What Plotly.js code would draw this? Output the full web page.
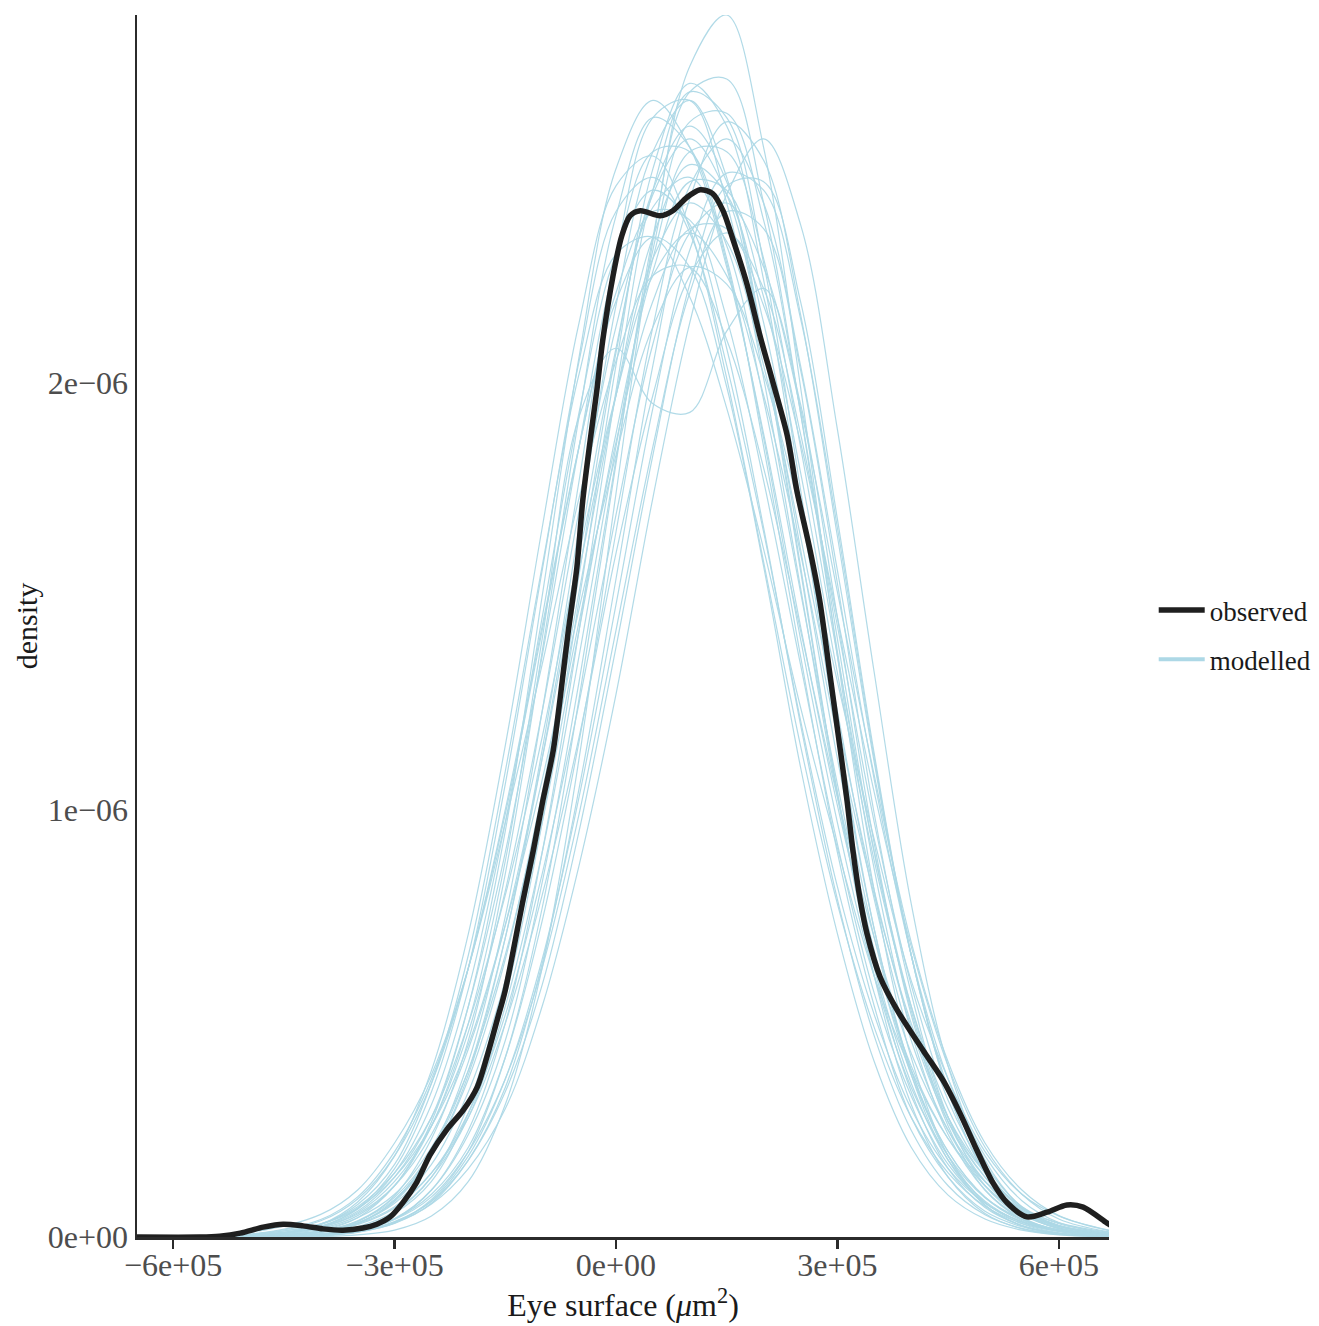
<!DOCTYPE html>
<html>
<head>
<meta charset="utf-8">
<script src="https://cdn.plot.ly/plotly-3.0.1.min.js"></script>
<style>html,body{margin:0;padding:0;background:#fff;}</style>
</head>
<body>
<div id="chart" style="width:1319px;height:1326px;"></div>
<script>
// ---- data (x in µm², y in units of 1e-6) ----
const Y_UNIT = 1e-6;

const observedX = [-649000, -564000, -537000, -509000, -478000, -451000, -424000, -397000, -370000, -343000, -324000, -306000, -289000, -270000, -252000, -229000, -207000, -188000, -175000, -161000, -150000, -126000, -112000, -99000, -85000, -76000, -65000, -53000, -45000, -35000, -26000, -18000, -4000, 8000, 19000, 33000, 60000, 77000, 96000, 114000, 131000, 145000, 159000, 178000, 195000, 213000, 232000, 245000, 263000, 276000, 290000, 304000, 313000, 321000, 331000, 340000, 358000, 381000, 416000, 443000, 466000, 489000, 511000, 530000, 557000, 584000, 611000, 633000, 665000, 676000];
const observedY = [0, 0, 0.002, 0.009, 0.023, 0.030, 0.026, 0.019, 0.016, 0.021, 0.030, 0.047, 0.080, 0.128, 0.192, 0.252, 0.297, 0.351, 0.421, 0.508, 0.578, 0.788, 0.905, 1.022, 1.139, 1.256, 1.413, 1.567, 1.724, 1.864, 1.981, 2.098, 2.250, 2.344, 2.390, 2.402, 2.390, 2.402, 2.433, 2.451, 2.442, 2.402, 2.332, 2.227, 2.110, 1.998, 1.876, 1.747, 1.607, 1.490, 1.315, 1.139, 1.022, 0.905, 0.788, 0.711, 0.608, 0.531, 0.437, 0.367, 0.290, 0.203, 0.126, 0.080, 0.047, 0.058, 0.075, 0.070, 0.033, 0.021];

const modelledX = [-650000, -500000, -400000, -350000, -300000, -250000, -200000, -150000, -100000, -50000, 0, 50000, 100000, 150000, 200000, 250000, 300000, 350000, 400000, 450000, 500000, 550000, 600000, 668000];

const modelled01 = [0, 0, 0.001, 0.005, 0.016, 0.049, 0.13, 0.31, 0.63, 1.12, 1.74, 2.33, 2.74, 2.86, 2.55, 1.99, 1.36, 0.81, 0.42, 0.19, 0.074, 0.026, 0.008, 0.001];
const modelled02 = [0, 0, 0.003, 0.011, 0.033, 0.088, 0.20, 0.42, 0.77, 1.26, 1.81, 2.34, 2.68, 2.71, 2.42, 1.93, 1.37, 0.86, 0.48, 0.24, 0.11, 0.041, 0.014, 0.003];
const modelled03 = [0, 0, 0.006, 0.020, 0.055, 0.13, 0.29, 0.56, 0.97, 1.49, 2.04, 2.50, 2.70, 2.60, 2.24, 1.72, 1.17, 0.72, 0.39, 0.19, 0.081, 0.031, 0.010, 0.002];
const modelled04 = [0, 0.001, 0.015, 0.045, 0.12, 0.27, 0.54, 0.95, 1.50, 2.06, 2.50, 2.66, 2.55, 2.27, 1.88, 1.43, 1.01, 0.66, 0.40, 0.23, 0.12, 0.055, 0.025, 0.007];
const modelled05 = [0, 0.001, 0.012, 0.036, 0.097, 0.23, 0.46, 0.85, 1.37, 1.92, 2.39, 2.62, 2.55, 2.28, 1.87, 1.40, 0.97, 0.61, 0.35, 0.19, 0.092, 0.042, 0.017, 0.004];
const modelled06 = [0, 0.001, 0.011, 0.032, 0.086, 0.20, 0.41, 0.75, 1.23, 1.77, 2.29, 2.62, 2.66, 2.42, 2.01, 1.52, 1.03, 0.64, 0.36, 0.18, 0.084, 0.035, 0.013, 0.004];
const modelled07 = [0, 0, 0.004, 0.012, 0.032, 0.079, 0.18, 0.35, 0.64, 1.05, 1.54, 2.04, 2.43, 2.61, 2.52, 2.16, 1.64, 1.11, 0.66, 0.35, 0.17, 0.071, 0.026, 0.006];
const modelled08 = [0, 0, 0.005, 0.014, 0.036, 0.083, 0.18, 0.34, 0.59, 0.95, 1.38, 1.83, 2.23, 2.46, 2.47, 2.19, 1.68, 1.13, 0.66, 0.34, 0.15, 0.059, 0.020, 0.004];
const modelled09 = [0, 0.001, 0.014, 0.038, 0.093, 0.20, 0.39, 0.70, 1.12, 1.61, 2.08, 2.44, 2.57, 2.44, 2.08, 1.61, 1.12, 0.70, 0.39, 0.20, 0.093, 0.038, 0.014, 0.003];
const modelled10 = [0, 0.003, 0.023, 0.057, 0.13, 0.26, 0.48, 0.81, 1.23, 1.70, 2.13, 2.41, 2.48, 2.32, 1.96, 1.51, 1.06, 0.67, 0.38, 0.20, 0.094, 0.041, 0.016, 0.004];
const modelled11 = [0, 0.001, 0.013, 0.033, 0.079, 0.17, 0.34, 0.60, 0.97, 1.42, 1.88, 2.26, 2.47, 2.45, 2.20, 1.79, 1.32, 0.88, 0.54, 0.30, 0.15, 0.067, 0.027, 0.007];
const modelled12 = [0, 0.006, 0.041, 0.094, 0.20, 0.37, 0.63, 0.99, 1.42, 1.85, 2.21, 2.40, 2.38, 2.15, 1.77, 1.34, 0.92, 0.57, 0.33, 0.17, 0.080, 0.035, 0.014, 0.003];
const modelled13 = [0, 0.001, 0.012, 0.029, 0.068, 0.15, 0.29, 0.52, 0.85, 1.25, 1.69, 2.09, 2.35, 2.42, 2.27, 1.94, 1.51, 1.08, 0.69, 0.41, 0.22, 0.11, 0.050, 0.015];
const modelled14 = [0, 0.005, 0.031, 0.071, 0.15, 0.28, 0.50, 0.80, 1.17, 1.60, 1.97, 2.25, 2.35, 2.25, 1.97, 1.60, 1.17, 0.80, 0.50, 0.28, 0.15, 0.071, 0.031, 0.009];
const modelled15 = [0, 0.001, 0.014, 0.037, 0.088, 0.19, 0.37, 0.65, 1.04, 1.51, 1.97, 2.34, 2.51, 2.44, 2.14, 1.70, 1.23, 0.79, 0.46, 0.25, 0.12, 0.053, 0.021, 0.005];
const modelled16 = [0, 0.002, 0.025, 0.067, 0.16, 0.34, 0.63, 1.06, 1.56, 2.05, 2.40, 2.48, 2.35, 2.04, 1.65, 1.21, 0.82, 0.52, 0.30, 0.16, 0.079, 0.036, 0.015, 0.004];
const modelled17 = [0, 0.002, 0.012, 0.031, 0.071, 0.15, 0.28, 0.50, 0.80, 1.17, 1.60, 1.97, 2.25, 2.35, 2.22, 1.88, 1.43, 0.97, 0.59, 0.32, 0.16, 0.066, 0.026, 0.006];
const modelled18 = [0, 0.010, 0.053, 0.11, 0.22, 0.38, 0.63, 0.97, 1.34, 1.73, 2.05, 2.25, 2.27, 2.10, 1.80, 1.42, 1.03, 0.70, 0.43, 0.25, 0.13, 0.061, 0.027, 0.008];
const modelled19 = [0, 0, 0.008, 0.024, 0.060, 0.14, 0.28, 0.54, 0.90, 1.36, 1.85, 2.29, 2.54, 2.54, 2.29, 1.85, 1.36, 0.90, 0.54, 0.28, 0.14, 0.060, 0.024, 0.006];
const modelled20 = [0, 0.001, 0.011, 0.032, 0.083, 0.19, 0.38, 0.70, 1.14, 1.66, 2.18, 2.54, 2.66, 2.48, 2.08, 1.56, 1.04, 0.63, 0.34, 0.16, 0.069, 0.027, 0.009, 0.002];
const modelled21 = [0, 0.002, 0.020, 0.050, 0.12, 0.26, 0.50, 0.88, 1.40, 1.92, 2.08, 1.95, 1.93, 2.12, 2.22, 1.95, 1.45, 0.92, 0.52, 0.26, 0.11, 0.045, 0.016, 0.004];
const modelled22 = [0, 0.005, 0.038, 0.089, 0.19, 0.36, 0.63, 1.00, 1.43, 1.85, 2.19, 2.34, 2.27, 1.99, 1.57, 1.10, 0.71, 0.41, 0.21, 0.098, 0.042, 0.016, 0.005, 0.001];
const modelled23 = [0, 0, 0.006, 0.017, 0.041, 0.094, 0.20, 0.37, 0.63, 0.99, 1.42, 1.85, 2.21, 2.40, 2.36, 2.03, 1.53, 0.99, 0.57, 0.28, 0.12, 0.047, 0.015, 0.003];
const modelled24 = [0, 0.005, 0.030, 0.067, 0.14, 0.26, 0.45, 0.73, 1.07, 1.47, 1.83, 2.13, 2.27, 2.23, 2.02, 1.69, 1.30, 0.93, 0.60, 0.37, 0.20, 0.10, 0.049, 0.016];
const modelled25 = [0, 0.003, 0.029, 0.076, 0.17, 0.36, 0.66, 1.09, 1.57, 2.02, 2.30, 2.34, 2.20, 1.94, 1.61, 1.24, 0.91, 0.61, 0.39, 0.23, 0.13, 0.066, 0.033, 0.011];
const modelled26 = [0, 0, 0.005, 0.013, 0.033, 0.077, 0.16, 0.30, 0.54, 0.87, 1.27, 1.73, 2.14, 2.44, 2.57, 2.37, 1.89, 1.32, 0.78, 0.40, 0.18, 0.069, 0.022, 0.004];
const modelled27 = [0, 0.001, 0.024, 0.060, 0.14, 0.28, 0.54, 0.90, 1.36, 1.85, 2.29, 2.54, 2.54, 2.29, 1.85, 1.36, 0.90, 0.54, 0.28, 0.14, 0.060, 0.024, 0.008, 0.002];
const modelled28 = [0, 0, 0.005, 0.016, 0.043, 0.11, 0.24, 0.46, 0.83, 1.30, 1.82, 2.31, 2.61, 2.63, 2.38, 1.93, 1.40, 0.90, 0.53, 0.27, 0.13, 0.053, 0.020, 0.004];
const modelled29 = [0, 0.003, 0.023, 0.054, 0.12, 0.24, 0.44, 0.73, 1.12, 1.56, 1.97, 2.29, 2.42, 2.33, 2.04, 1.64, 1.21, 0.81, 0.49, 0.27, 0.14, 0.063, 0.027, 0.007];
const modelled30 = [0, 0, 0.005, 0.016, 0.042, 0.10, 0.21, 0.42, 0.74, 1.16, 1.65, 2.13, 2.46, 2.57, 2.42, 2.04, 1.56, 1.07, 0.66, 0.37, 0.19, 0.085, 0.034, 0.009];
const modelled31 = [0, 0.002, 0.025, 0.065, 0.15, 0.31, 0.58, 0.97, 1.45, 1.93, 2.30, 2.45, 2.37, 2.08, 1.66, 1.20, 0.79, 0.47, 0.25, 0.12, 0.052, 0.020, 0.007, 0.002];
const modelled32 = [0, 0, 0.004, 0.012, 0.035, 0.085, 0.19, 0.37, 0.65, 1.03, 1.48, 1.94, 2.31, 2.49, 2.45, 2.15, 1.66, 1.12, 0.66, 0.34, 0.15, 0.058, 0.019, 0.004];
const modelled33 = [0, 0, 0.006, 0.020, 0.058, 0.14, 0.31, 0.60, 1.02, 1.55, 2.07, 2.45, 2.60, 2.47, 2.09, 1.57, 1.04, 0.61, 0.31, 0.14, 0.055, 0.019, 0.006, 0.001];
const modelled34 = [0, 0.002, 0.018, 0.045, 0.10, 0.21, 0.39, 0.66, 1.02, 1.44, 1.86, 2.19, 2.36, 2.36, 2.18, 1.86, 1.45, 1.04, 0.68, 0.40, 0.21, 0.10, 0.042, 0.012];
const modelled35 = [0, 0.002, 0.030, 0.082, 0.19, 0.39, 0.71, 1.15, 1.66, 2.14, 2.46, 2.53, 2.36, 2.01, 1.58, 1.15, 0.78, 0.49, 0.28, 0.15, 0.072, 0.032, 0.013, 0.003];
const modelled36 = [0, 0, 0.004, 0.014, 0.042, 0.11, 0.25, 0.50, 0.90, 1.42, 1.98, 2.45, 2.68, 2.62, 2.28, 1.75, 1.19, 0.72, 0.38, 0.18, 0.075, 0.027, 0.008, 0.002];

const modelledSeries = [modelled01, modelled02, modelled03, modelled04, modelled05, modelled06, modelled07, modelled08, modelled09, modelled10,
  modelled11, modelled12, modelled13, modelled14, modelled15, modelled16, modelled17, modelled18, modelled19, modelled20,
  modelled21, modelled22, modelled23, modelled24, modelled25, modelled26, modelled27, modelled28, modelled29, modelled30,
  modelled31, modelled32, modelled33, modelled34, modelled35, modelled36];

const seriesNames = ["observed", "modelled"];
const xTickVals = [-600000, -300000, 0, 300000, 600000];
const xTickText = ["\u22126e+05", "\u22123e+05", "0e+00", "3e+05", "6e+05"];
const yTickVals = [0, 1, 2];
const yTickText = ["0e+00", "1e\u221206", "2e\u221206"];

// ---- build traces ----
const BLUE = "rgb(173,216,230)";
const DARK = "#1f1f1f";
const toY = arr => arr.map(v => v * Y_UNIT);

const traces = [];
modelledSeries.forEach(ys => {
  traces.push({
    type: "scatter", mode: "lines",
    x: modelledX, y: toY(ys),
    line: {color: BLUE, width: 1.2, shape: "spline", smoothing: 1},
    opacity: 0.95,
    showlegend: false, hoverinfo: "skip", legendgroup: "mod"
  });
});
// legend key for modelled
traces.push({
  type: "scatter", mode: "lines", x: [null], y: [null],
  name: seriesNames[1], legendgroup: "mod", legendrank: 2,
  line: {color: BLUE, width: 4}, showlegend: true
});
traces.push({
  type: "scatter", mode: "lines",
  x: observedX, y: toY(observedY),
  name: seriesNames[0], legendgroup: "obs", legendrank: 1,
  line: {color: DARK, width: 5.5, shape: "spline", smoothing: 0.8},
  showlegend: true
});

const FONT = "Liberation Serif, Times New Roman, serif";

const layout = {
  width: 1319, height: 1326,
  margin: {l: 137, r: 210, t: 15, b: 89, pad: 0, autoexpand: false},
  paper_bgcolor: "#ffffff", plot_bgcolor: "#ffffff",
  font: {family: FONT, color: "#000", size: 26},
  showlegend: true,
  legend: {
    x: 1.046, xanchor: "left", y: 0.4926, yanchor: "middle",
    font: {family: FONT, size: 27, color: "#1a1a1a"},
    traceorder: "grouped", tracegroupgap: 11,
    itemwidth: 46, bgcolor: "rgba(0,0,0,0)", borderwidth: 0
  },
  xaxis: {
    range: [-649000, 668000],
    showgrid: false, zeroline: false,
    showline: true, linecolor: "#2b2b2b", linewidth: 2.5, mirror: false,
    ticks: "outside", ticklen: 9, tickwidth: 2.5, tickcolor: "#2b2b2b",
    ticklabelstandoff: -11,
    tickvals: xTickVals, ticktext: xTickText,
    tickfont: {family: FONT, size: 32, color: "#4d4d4d"},
    title: {text: "Eye surface (<i>\u03bc</i>m<sup>2</sup>)", font: {family: FONT, size: 32, color: "#1a1a1a"}, standoff: 3}
  },
  yaxis: {
    range: [0, 2.86e-6],
    showgrid: false, zeroline: false,
    showline: true, linecolor: "#2b2b2b", linewidth: 2.5,
    ticks: "", ticklen: 0,
    tickvals: yTickVals.map(v => v * Y_UNIT), ticktext: yTickText,
    tickfont: {family: FONT, size: 32, color: "#4d4d4d"},
    title: {text: "density", font: {family: FONT, size: 30, color: "#1a1a1a"}, standoff: 2}
  }
};

Plotly.newPlot("chart", traces, layout, {staticPlot: true, displayModeBar: false});
</script>
</body>
</html>
